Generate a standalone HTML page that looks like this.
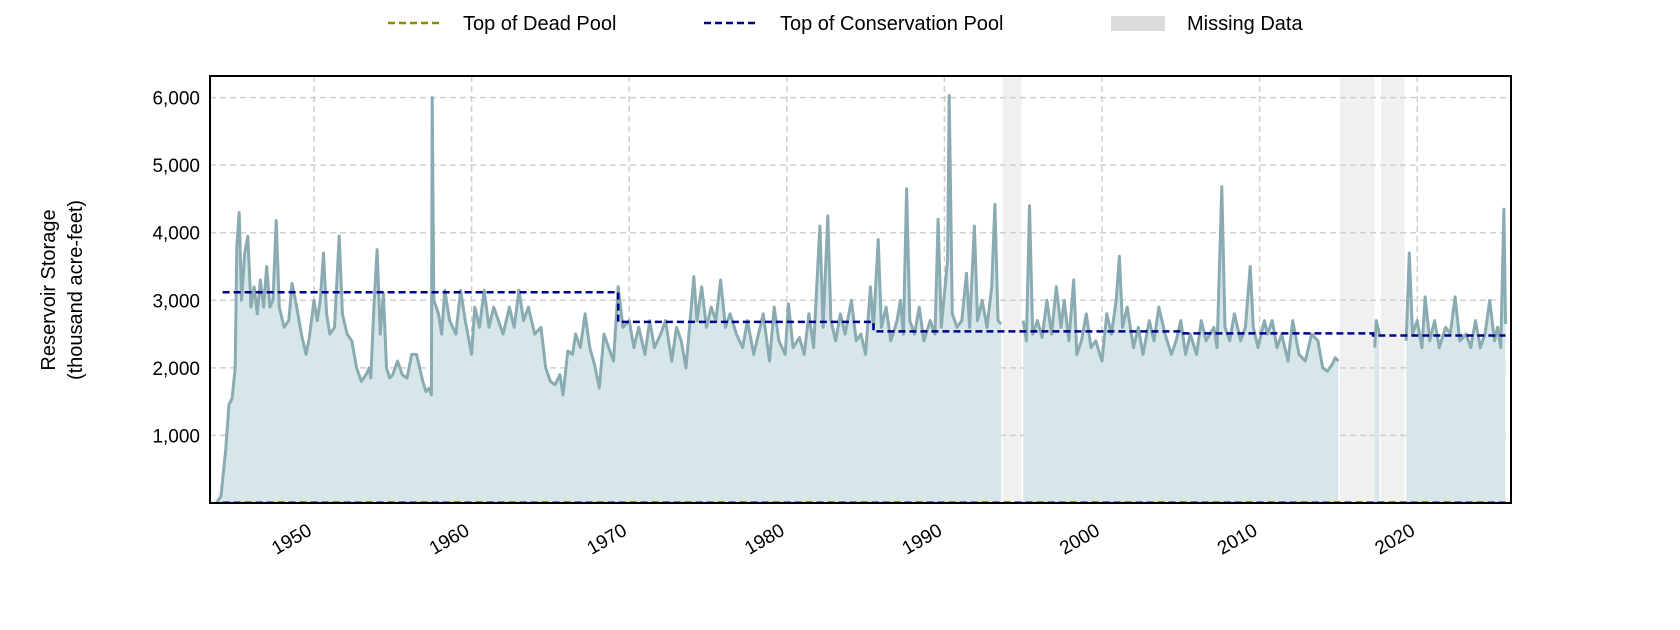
<!DOCTYPE html>
<html><head><meta charset="utf-8">
<style>
html,body{margin:0;padding:0;background:#fff;}
svg{display:block;font-family:"Liberation Sans",sans-serif;}
</style></head>
<body>
<svg id="chart" width="1680" height="630" viewBox="0 0 1680 630" xmlns="http://www.w3.org/2000/svg">
  <g id="legend">
    <g>
      <line x1="388" y1="23" x2="440" y2="23" stroke="#8b8b00" stroke-width="2.5" stroke-dasharray="7,4"/>
      <text x="463" y="30" font-size="20" fill="#000">Top of Dead Pool</text>
    </g>
    <g>
      <line x1="704" y1="23" x2="757" y2="23" stroke="#00008b" stroke-width="2.5" stroke-dasharray="7,4"/>
      <text x="780" y="30" font-size="20" fill="#000">Top of Conservation Pool</text>
    </g>
    <g>
      <rect x="1111" y="16" width="54" height="15" fill="#dcdcdc"/>
      <text x="1187" y="30" font-size="20" fill="#000">Missing Data</text>
    </g>
  </g>
  <g id="plot"></g>
  <g>
    <text transform="translate(55,290) rotate(-90)" text-anchor="middle" font-size="20" fill="#000">Reservoir Storage</text>
    <text transform="translate(82,290) rotate(-90)" text-anchor="middle" font-size="20" fill="#000">(thousand acre-feet)</text>
  </g>
</svg>
<script>
const dates = [1943.8,1944.1,1944.4,1944.6,1944.8,1945.0,1945.1,1945.25,1945.4,1945.6,1945.8,1946.0,1946.2,1946.4,1946.6,1946.8,1947.0,1947.2,1947.4,1947.6,1947.8,1948.1,1948.4,1948.6,1948.9,1949.2,1949.5,1949.7,1950.0,1950.2,1950.4,1950.6,1950.8,1951.0,1951.3,1951.6,1951.8,1952.1,1952.4,1952.7,1953.0,1953.3,1953.5,1953.6,1953.8,1954.0,1954.2,1954.4,1954.6,1954.8,1955.0,1955.3,1955.6,1955.9,1956.2,1956.5,1956.9,1957.1,1957.3,1957.45,1957.5,1957.6,1957.9,1958.1,1958.3,1958.6,1959.0,1959.3,1959.6,1960.0,1960.2,1960.5,1960.8,1961.1,1961.4,1961.7,1962.0,1962.4,1962.7,1963.0,1963.3,1963.6,1964.0,1964.4,1964.7,1965.0,1965.3,1965.6,1965.8,1966.1,1966.4,1966.6,1966.9,1967.2,1967.5,1967.8,1968.1,1968.4,1968.7,1969.0,1969.3,1969.6,1970.0,1970.3,1970.6,1971.0,1971.3,1971.6,1972.0,1972.3,1972.7,1973.0,1973.3,1973.6,1973.9,1974.1,1974.3,1974.6,1974.9,1975.2,1975.5,1975.8,1976.1,1976.4,1976.8,1977.2,1977.5,1977.9,1978.2,1978.5,1978.9,1979.2,1979.5,1979.9,1980.1,1980.4,1980.8,1981.1,1981.4,1981.7,1982.1,1982.3,1982.6,1982.8,1983.1,1983.4,1983.7,1984.1,1984.4,1984.7,1985.0,1985.3,1985.5,1985.8,1986.0,1986.3,1986.6,1987.0,1987.2,1987.4,1987.6,1987.8,1988.1,1988.4,1988.7,1989.1,1989.4,1989.6,1989.8,1990.2,1990.3,1990.5,1990.8,1991.1,1991.4,1991.6,1991.9,1992.1,1992.4,1992.7,1993.0,1993.2,1993.4,1993.6,1994.3,1995.0,1995.2,1995.4,1995.6,1995.9,1996.2,1996.5,1996.8,1997.1,1997.4,1997.6,1997.9,1998.2,1998.4,1998.7,1999.0,1999.3,1999.6,2000.0,2000.3,2000.6,2000.9,2001.1,2001.3,2001.6,2002.0,2002.3,2002.6,2003.0,2003.3,2003.6,2004.0,2004.4,2004.7,2005.0,2005.3,2005.6,2006.0,2006.3,2006.6,2007.1,2007.3,2007.6,2007.8,2008.1,2008.4,2008.8,2009.1,2009.4,2009.6,2009.9,2010.3,2010.5,2010.8,2011.1,2011.4,2011.8,2012.1,2012.5,2012.9,2013.3,2013.7,2014.0,2014.3,2014.6,2014.8,2015.0,2016.0,2017.3,2017.4,2017.6,2018.5,2019.3,2019.5,2019.7,2020.0,2020.3,2020.5,2020.8,2021.1,2021.4,2021.8,2022.1,2022.4,2022.7,2023.1,2023.4,2023.7,2024.0,2024.3,2024.6,2024.9,2025.1,2025.3,2025.5,2025.6];
const storage = [0,100,800,1450,1550,2000,3800,4300,3000,3700,3950,2900,3200,2800,3300,2900,3500,2900,3000,4180,2900,2600,2700,3250,2900,2500,2200,2450,3000,2700,3000,3700,2800,2500,2600,3950,2800,2500,2400,2000,1800,1900,2000,1850,2900,3750,2500,3100,2000,1850,1900,2100,1900,1850,2200,2200,1800,1650,1700,1600,6000,3000,2800,2500,3150,2700,2500,3150,2700,2200,2900,2600,3150,2600,2900,2700,2500,2900,2600,3150,2700,2900,2500,2600,2000,1800,1750,1900,1600,2250,2200,2500,2300,2800,2300,2050,1700,2500,2300,2100,3200,2600,2700,2300,2600,2200,2700,2300,2500,2700,2100,2600,2400,2000,2800,3350,2700,3200,2600,2900,2700,3300,2600,2800,2500,2300,2700,2200,2500,2800,2100,2900,2400,2200,2950,2300,2450,2200,2800,2300,4100,2600,4250,2700,2400,2800,2500,3000,2400,2500,2200,3200,2600,3900,2600,2900,2400,2700,3000,2500,4650,2700,2500,2900,2400,2700,2500,4200,2600,3600,6030,2800,2600,2700,3400,2600,4100,2700,3000,2600,3200,4420,2700,2650,null,2700,2400,4400,2500,2700,2450,3000,2500,3200,2600,3000,2400,3300,2200,2400,2800,2300,2400,2100,2800,2500,3000,3650,2600,2900,2300,2600,2200,2700,2400,2900,2500,2200,2400,2700,2200,2500,2200,2700,2400,2600,2300,4680,2600,2400,2800,2400,2600,3500,2600,2300,2700,2500,2700,2300,2500,2100,2700,2200,2100,2500,2400,2000,1950,2050,2150,2100,null,2300,2700,2500,null,2400,3700,2500,2700,2300,3050,2400,2700,2300,2600,2500,3050,2400,2500,2300,2700,2300,2500,3000,2400,2600,2300,4350,2650];
const consStart = [1944.2,1969.3,1985.5,2005.0,2017.2];
const consEnd   = [1969.3,1985.5,2005.0,2017.2,2025.6];
const consLevel = [3120,2680,2540,2510,2480];
const deadPool = 15;
const gapStart = [1993.7,2015.1,2017.7];
const gapEnd   = [1994.9,2017.3,2019.2];
const yTicks = [1000,2000,3000,4000,5000,6000];
const xTicks = [1950,1960,1970,1980,1990,2000,2010,2020];

const L=210,R=1511,T=76,B=503;
const X0=1943.4,X1=2025.95,Y0=0,Y1=6320;
const sx=v=>L+(v-X0)/(X1-X0)*(R-L);
const sy=v=>B-(v-Y0)/(Y1-Y0)*(B-T);
const NS='http://www.w3.org/2000/svg';
const plot=document.getElementById('plot');
function mk(tag,attrs,parent){const e=document.createElementNS(NS,tag);for(const k in attrs)e.setAttribute(k,attrs[k]);(parent||plot).appendChild(e);return e;}

gapStart.forEach((g,i)=>{
  const r=mk('rect',{x:sx(g),y:T,width:sx(gapEnd[i])-sx(g),height:B-T,fill:'#f0f0f0'});
  
  
});
yTicks.forEach(t=>{
  const l=mk('line',{x1:L,x2:R,y1:sy(t),y2:sy(t),stroke:'#cfcfcf','stroke-width':1.5,'stroke-dasharray':'6,4'});
  
  
});
xTicks.forEach(t=>{
  const l=mk('line',{x1:sx(t),x2:sx(t),y1:T,y2:B,stroke:'#cfcfcf','stroke-width':1.5,'stroke-dasharray':'6,4'});
  
  
});
const segs=[];let cur=[];
dates.forEach((d,i)=>{if(storage[i]===null){if(cur.length)segs.push(cur);cur=[];}else cur.push([d,storage[i]]);});
if(cur.length)segs.push(cur);
segs.forEach(s=>{
  let dA='M'+sx(s[0][0])+','+B;
  s.forEach(p=>dA+='L'+sx(p[0]).toFixed(1)+','+sy(p[1]).toFixed(1));
  dA+='L'+sx(s[s.length-1][0])+','+B+'Z';
  const a=mk('path',{d:dA,fill:'#d6e6e9'});
  
  
});
segs.forEach(s=>{
  const dL=s.map((p,i)=>(i?'L':'M')+sx(p[0]).toFixed(1)+','+sy(p[1]).toFixed(1)).join('');
  const ln=mk('path',{d:dL,fill:'none',stroke:'#8aabb2','stroke-width':3,'stroke-linejoin':'round'});
  
  
});
const dp=mk('line',{x1:sx(1944.2),x2:sx(2025.6),y1:sy(deadPool),y2:sy(deadPool),stroke:'#8b8b00','stroke-width':2,'stroke-dasharray':'7,4'});


let cd='';
consStart.forEach((s,i)=>{
  cd+=(i?'L':'M')+sx(s)+','+sy(consLevel[i])+'L'+sx(consEnd[i])+','+sy(consLevel[i]);
});
const cp=mk('path',{d:cd,fill:'none',stroke:'#00008b','stroke-width':2.5,'stroke-dasharray':'7,4'});


const fr=mk('rect',{x:L,y:T,width:R-L,height:B-T,fill:'none',stroke:'#000','stroke-width':2});


yTicks.forEach(t=>{
  const tx=mk('text',{x:200,y:sy(t)+7,'text-anchor':'end','font-size':19,fill:'#000'});
  tx.textContent=t.toLocaleString('en-US');
  
  
});
xTicks.forEach(t=>{
  const tx=mk('text',{transform:'translate('+(sx(t)-1)+',534) rotate(-30)','text-anchor':'end','font-size':19,fill:'#000'});
  tx.textContent=t;
  
  
});
</script>
</body></html>
